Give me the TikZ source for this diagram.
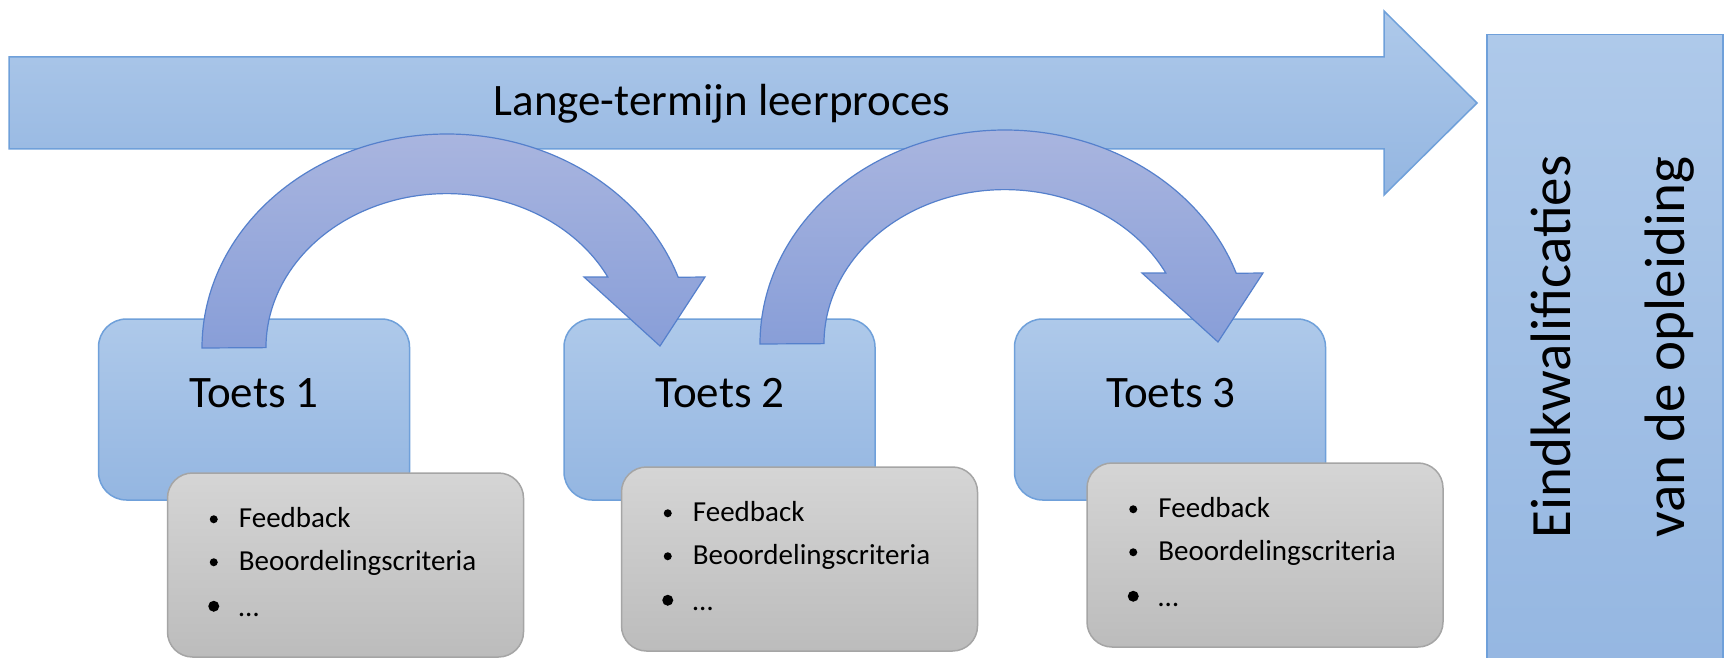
\documentclass[tikz,border=0pt]{standalone}
\usepackage{fontspec}
\setmainfont{Carlito}
\usetikzlibrary{calc}
\definecolor{bluetop}{HTML}{AEC9EA}
\definecolor{bluebot}{HTML}{94B6E1}
\definecolor{blueline}{HTML}{6FA0DA}
\definecolor{arctop}{HTML}{A9B5DF}
\definecolor{arcbot}{HTML}{889ED8}
\definecolor{arcline}{HTML}{5580CC}
\definecolor{graytop}{HTML}{D5D5D5}
\definecolor{graybot}{HTML}{BCBCBC}
\definecolor{grayline}{HTML}{A5A5A5}
\tikzset{
  bluefill/.style={top color=bluetop, bottom color=bluebot, draw=blueline, line width=1.5pt},
  toetsbox/.style={bluefill, rounded corners=28pt, minimum width=311pt, minimum height=181pt, inner sep=0pt},
  infobox/.style={top color=graytop, bottom color=graybot, draw=grayline, line width=1.5pt, rounded corners=25pt, minimum width=356pt, minimum height=184pt, inner sep=0pt},
  bigtext/.style={font=\fontsize{45}{54}\selectfont, inner sep=0pt, anchor=base},
  sidetext/.style={font=\fontsize{57}{68}\selectfont, inner sep=0pt, anchor=base, rotate=90},
  itemtext/.style={font=\fontsize{29}{34}\selectfont, inner sep=0pt, anchor=base west},
  arcarrow/.style={top color=arctop, bottom color=arcbot, draw=arcline, line width=1.2pt},
}
\newcommand\loopArrow[2]{%
  \path[arcarrow] ({#1-245},{#2}) arc[start angle=180, end angle=340.7, x radius=245, y radius=214]
    -- ({#1+258},{#2-71}) -- ({#1+213},{#2-2}) -- ({#1+137},{#2-71}) -- ({#1+160.8},{#2-71})
    arc[start angle=332.7, end angle=180, x radius=181, y radius=154] -- cycle;}
\newcommand\itemsIn[1]{%
  \fill ($(#1.north west)+(47,47)$) circle (4pt);
  \fill ($(#1.north west)+(47,90)$) circle (4pt);
  \fill ($(#1.north west)+(47,134)$) circle (5.5pt);
  \node[itemtext] (#1a) at ($(#1.north west)+(72,55)$) {Feedback};
  \node[itemtext] (#1b) at ($(#1.north west)+(72,98)$) {Beoordelingscriteria};
  \node[itemtext] (#1c) at ($(#1.north west)+(72,144)$) {…};}
\begin{document}
\begin{tikzpicture}[x=1pt,y=-1pt]
\clip (0,0) rectangle (1725,658);
\fill[white] (0,0) rectangle (1725,658);
% long-term arrow
\path[bluefill] (9,57) -- (1384,57) -- (1384,11) -- (1477,103) -- (1384,195) -- (1384,149) -- (9,149) -- cycle;
\node[bigtext] (lange) at (722,116) {Lange-termijn leerproces};
% final qualifications box
\node[bluefill, anchor=north west, minimum width=236pt, minimum height=660pt, inner sep=0pt] (eind) at (1486,34) {};
\node[sidetext] (eind1) at (1570,347) {Eindkwalificaties};
\node[sidetext] (eind2) at (1684,347) {van de opleiding};
% test boxes
\node[toetsbox] (t1) at (254,409.5) {};
\node[toetsbox] (t2) at (719.5,409.5) {};
\node[toetsbox] (t3) at (1170,409.5) {};
% curved arrows
\loopArrow{447}{348}
\loopArrow{1005}{344}
\node[bigtext] (t1l) at (254,407) {Toets 1};
\node[bigtext] (t2l) at (720,407) {Toets 2};
\node[bigtext] (t3l) at (1171,407) {Toets 3};
% info boxes
\node[infobox] (g1) at (345.5,565) {};
\node[infobox] (g2) at (799.5,559) {};
\node[infobox] (g3) at (1265,555) {};
\itemsIn{g1}
\itemsIn{g2}
\itemsIn{g3}
\end{tikzpicture}
\end{document}
